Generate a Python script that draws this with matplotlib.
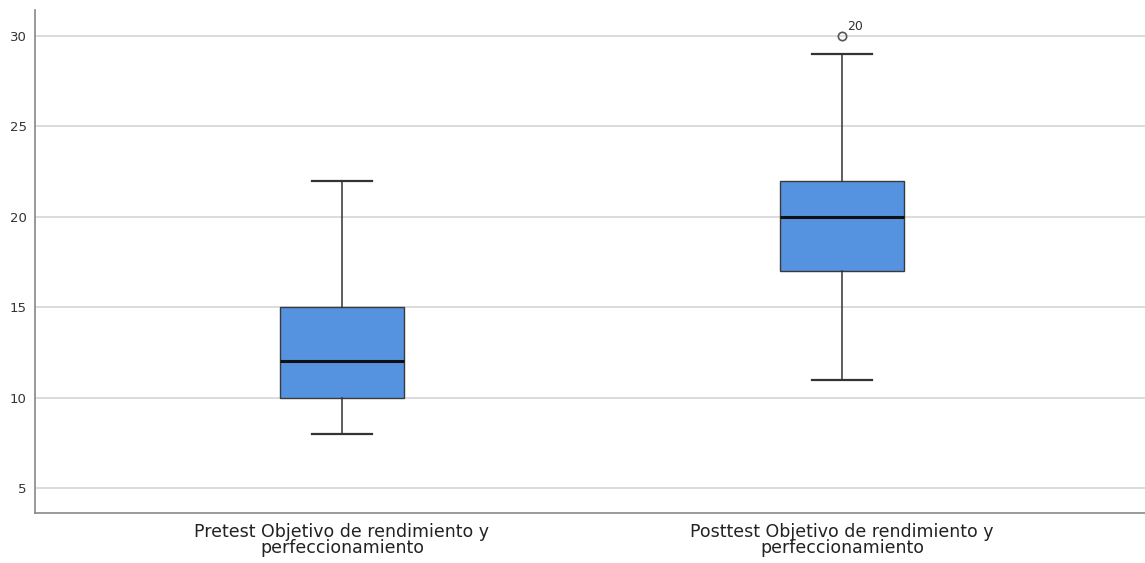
import matplotlib.pyplot as plt

plt.rcParams['font.family'] = ['DejaVu Sans']

# Box-plot summaries per test
labels = ["Pretest Objetivo de rendimiento y\nperfeccionamiento",
          "Posttest Objetivo de rendimiento y\nperfeccionamiento"]
whisker_low = [8, 11]
q1 = [10, 17]
median = [12, 20]
q3 = [15, 22]
whisker_high = [22, 29]
outliers = [[], [30]]
outlier_ids = [[], ["20"]]

stats = []
for i in range(len(labels)):
    stats.append(dict(whislo=whisker_low[i], q1=q1[i], med=median[i], q3=q3[i],
                      whishi=whisker_high[i], fliers=outliers[i], label=labels[i]))

fig = plt.figure(figsize=(11.45, 5.63), dpi=100)
ax = fig.add_axes([35 / 1145, 50 / 563, 1110 / 1145, 503 / 563])

ax.bxp(stats, positions=[1, 2], widths=0.248, patch_artist=True,
       boxprops=dict(facecolor="#5592e0", edgecolor="#3a3a3a", linewidth=1.0),
       medianprops=dict(color="#111111", linewidth=2.2),
       whiskerprops=dict(color="#333333", linewidth=1.1),
       capprops=dict(color="#333333", linewidth=1.6),
       capwidths=0.12,
       flierprops=dict(marker="o", markerfacecolor="none", markeredgecolor="#555555",
                       markersize=6, markeredgewidth=1.2))

for pos, vals, ids in zip([1, 2], outliers, outlier_ids):
    for v, t in zip(vals, ids):
        ax.annotate(t, (pos, v), xytext=(4, 4), textcoords="offset points",
                    fontsize=9, color="#333333")

ax.set_xlim(0.386, 2.606)
ax.set_ylim(3.62, 31.44)
ax.set_yticks([5, 10, 15, 20, 25, 30])
ax.yaxis.grid(True, color="#d9d9d9", linewidth=1.3)
ax.set_axisbelow(True)
ax.tick_params(axis="both", length=0)
ax.tick_params(axis="y", labelsize=9.5, labelcolor="#333333", pad=6)
ax.tick_params(axis="x", labelsize=12.5, labelcolor="#222222", pad=7)
for lbl in ax.get_xticklabels():
    lbl.set_linespacing(0.85)

for side in ["top", "right"]:
    ax.spines[side].set_visible(False)
for side in ["left", "bottom"]:
    ax.spines[side].set_color("#888888")
    ax.spines[side].set_linewidth(1.2)

fig.savefig("out.png", dpi=100)
